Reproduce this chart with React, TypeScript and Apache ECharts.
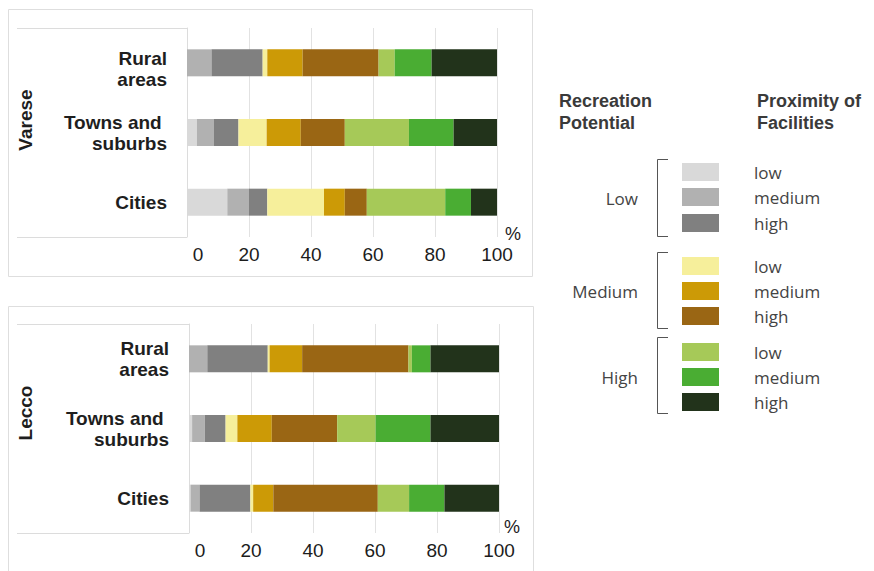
import React, { useEffect, useRef } from "react";
import * as echarts from "echarts";

// Row order on the category axis: bottom to top
const categories = ["Cities", "Towns and \nsuburbs", "Rural\nareas"];
const xTicks = [0, 20, 40, 60, 80, 100];

const potentialLevels = ["Low", "Medium", "High"];
const proximityLevels = ["low", "medium", "high"];
const seriesColors = [
  "#d9d9d9", "#b1b1b1", "#808080",
  "#f6ef9b", "#cc9a06", "#9a6614",
  "#a6c958", "#4aad33", "#22331b",
];

// values per row, in order LL, LM, LH, ML, MM, MH, HL, HM, HH (percent)
const vareseRural = [0, 7.9, 16.5, 1.5, 11.4, 24.5, 5.2, 11.9, 21.1];
const vareseTowns = [3.2, 5.4, 8.0, 9.1, 11.0, 14.2, 20.7, 14.4, 14.0];
const vareseCities = [13.0, 7.0, 5.9, 18.3, 6.7, 7.1, 25.3, 8.3, 8.4];
const leccoRural = [0, 5.9, 19.5, 0.6, 10.5, 34.3, 1.1, 6.0, 22.1];
const leccoTowns = [1.0, 4.1, 6.7, 3.8, 11.1, 21.1, 12.4, 17.7, 22.1];
const leccoCities = [0.5, 2.9, 16.4, 0.9, 6.5, 33.7, 10.1, 11.4, 17.6];

const panels = ["Varese", "Lecco"];

export default function App() {
  const ref = useRef<HTMLDivElement>(null);
  useEffect(() => {
    if (!ref.current) return;
    const chart = echarts.init(ref.current, null, { renderer: "svg" });

    const rowsByPanel = [
      [vareseCities, vareseTowns, vareseRural],
      [leccoCities, leccoTowns, leccoRural],
    ];
    const seriesNames: string[] = [];
    potentialLevels.forEach((p) =>
      proximityLevels.forEach((q) => seriesNames.push(`${p} potential / ${q} proximity`))
    );

    const series: any[] = [];
    rowsByPanel.forEach((rows, pi) => {
      seriesNames.forEach((name, si) => {
        series.push({
          type: "bar",
          name,
          stack: "s" + pi,
          xAxisIndex: pi,
          yAxisIndex: pi,
          barWidth: 27,
          itemStyle: { color: seriesColors[si] },
          data: rows.map((r) => r[si]),
        });
      });
    });

    const grids = [
      { left: 187, top: 28, width: 310, height: 209 },
      { left: 189, top: 324, width: 310, height: 209 },
    ];

    const xAxisCommon = (gi: number) => ({
      type: "value",
      gridIndex: gi,
      min: 0,
      max: 100,
      interval: 20,
      axisLine: { show: false },
      axisTick: { show: false },
      splitLine: { show: true, lineStyle: { color: "#e2e2e2", width: 1 } },
      axisLabel: {
        margin: 8,
        fontFamily: "Liberation Sans",
        fontSize: 19,
        color: "#1c1c1c",
        formatter: (v: number) => (v === 0 ? "{z|0}" : String(v)),
        rich: {
          z: { padding: [0, 0, 0, 22], fontFamily: "Liberation Sans", fontSize: 19, color: "#1c1c1c" },
        },
      },
      data: xTicks,
    });

    const labelFont = {
      fontFamily: "Liberation Sans",
      fontWeight: "bold",
      fontSize: 19,
      lineHeight: 21,
      color: "#1e1e1e",
    };

    const yAxisCommon = (gi: number) => ({
      type: "category",
      gridIndex: gi,
      data: categories,
      axisLine: { show: true, lineStyle: { color: "#dcdcdc", width: 1 } },
      axisTick: { show: false },
      axisLabel: {
        margin: 20,
        ...labelFont,
        align: "right",
        formatter: (v: string) => {
          if (gi === 0 && v.startsWith("Rural")) {
            const [a, b] = v.split("\n");
            return `{s| }\n{q|${a}}\n{q|${b}}`;
          }
          return v;
        },
        rich: {
          s: { fontSize: 2, lineHeight: 12 },
          q: { ...labelFont, align: "right" },
        },
      },
    });

    const line = (x1: number, y1: number, x2: number, y2: number, color = "#dcdcdc") => ({
      type: "line",
      silent: true,
      shape: { x1, y1, x2, y2 },
      style: { stroke: color, lineWidth: 1 },
    });

    const graphic: any[] = [
      // panel borders
      { type: "rect", silent: true, shape: { x: 8.5, y: 9.5, width: 524, height: 267 }, style: { fill: "none", stroke: "#dedede", lineWidth: 1 } },
      { type: "rect", silent: true, shape: { x: 8.5, y: 306.5, width: 525, height: 290 }, style: { fill: "none", stroke: "#dedede", lineWidth: 1 } },
      // inner label boxes
      line(17, 28.5, 187, 28.5),
      line(17, 237.5, 187, 237.5),
      line(17, 324.5, 189, 324.5),
      line(17, 533.5, 189, 533.5),
      // panel titles
      {
        type: "text", silent: true, x: 25, y: 120, rotation: Math.PI / 2,
        style: { text: panels[0], fontFamily: "Liberation Sans", fontWeight: "bold", fontSize: 19, fill: "#1e1e1e", align: "center", verticalAlign: "middle" },
      },
      {
        type: "text", silent: true, x: 25, y: 413, rotation: Math.PI / 2,
        style: { text: panels[1], fontFamily: "Liberation Sans", fontWeight: "bold", fontSize: 19, fill: "#1e1e1e", align: "center", verticalAlign: "middle" },
      },
      // percent signs
      { type: "text", silent: true, x: 513, y: 234, style: { text: "%", fontFamily: "Liberation Sans", fontSize: 18, fill: "#1c1c1c", align: "center", verticalAlign: "middle" } },
      { type: "text", silent: true, x: 512, y: 527, style: { text: "%", fontFamily: "Liberation Sans", fontSize: 18, fill: "#1c1c1c", align: "center", verticalAlign: "middle" } },
      // legend titles
      { type: "text", silent: true, x: 559, y: 90, style: { text: "Recreation\nPotential", fontFamily: "Liberation Sans", fontWeight: "bold", fontSize: 18, lineHeight: 22, fill: "#3a3a3a", align: "left", verticalAlign: "top" } },
      { type: "text", silent: true, x: 757, y: 90, style: { text: "Proximity of\nFacilities", fontFamily: "Liberation Sans", fontWeight: "bold", fontSize: 18, lineHeight: 22, fill: "#3a3a3a", align: "left", verticalAlign: "top" } },
    ];

    const groupTops = [159, 252, 337];
    const groupBottoms = [236, 328, 413];
    const swatchCenters = [
      [172, 197, 223],
      [266, 291, 316],
      [352, 377, 402],
    ];
    const groupLabelY = [198, 291, 377];
    potentialLevels.forEach((p, gi) => {
      const t = groupTops[gi] + 0.5;
      const b = groupBottoms[gi] + 0.5;
      graphic.push(line(657.5, t, 657.5, b, "#555"));
      graphic.push(line(657.5, t, 668, t, "#555"));
      graphic.push(line(657.5, b, 668, b, "#555"));
      graphic.push({
        type: "text", silent: true, x: 638, y: groupLabelY[gi],
        style: { text: p, fontFamily: "Open Sans", fontSize: 17, fill: "#444", align: "right", verticalAlign: "middle" },
      });
      proximityLevels.forEach((q, qi) => {
        const cy = swatchCenters[gi][qi];
        graphic.push({
          type: "rect", silent: true,
          shape: { x: 682, y: cy - 9, width: 37, height: 18 },
          style: { fill: seriesColors[gi * 3 + qi] },
        });
        graphic.push({
          type: "text", silent: true, x: 754, y: cy,
          style: { text: q, fontFamily: "Open Sans", fontSize: 17, fill: "#444", align: "left", verticalAlign: "middle" },
        });
      });
    });

    chart.setOption({
      animation: false,
      backgroundColor: "#ffffff",
      grid: grids,
      xAxis: [xAxisCommon(0), xAxisCommon(1)],
      yAxis: [yAxisCommon(0), yAxisCommon(1)],
      series,
      graphic,
    });
    return () => chart.dispose();
  }, []);

  return (
    <div
      ref={ref}
      style={{ position: "fixed", left: 0, top: 0, width: 874, height: 571, background: "#fff" }}
    />
  );
}
